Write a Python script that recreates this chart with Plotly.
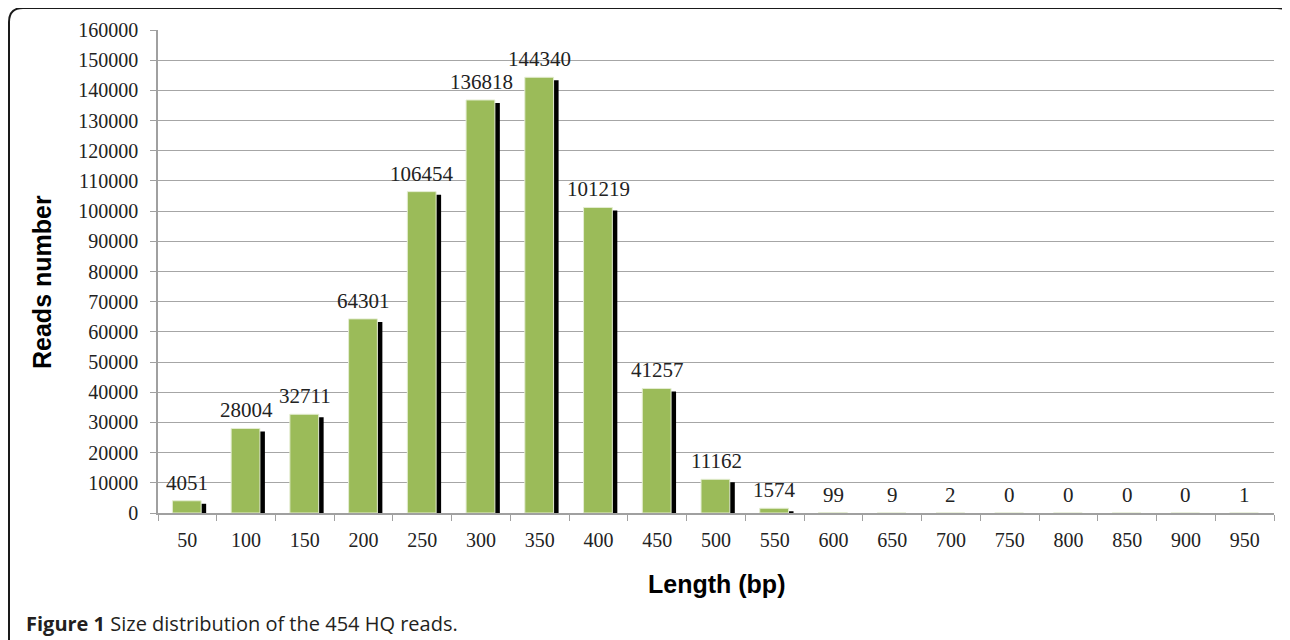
import plotly.graph_objects as go

# ---- data ----
lengths = ["50", "100", "150", "200", "250", "300", "350", "400", "450", "500",
           "550", "600", "650", "700", "750", "800", "850", "900", "950"]
reads = [4051, 28004, 32711, 64301, 106454, 136818, 144340, 101219, 41257, 11162,
         1574, 99, 9, 2, 0, 0, 0, 0, 1]
y_ticks = list(range(0, 160001, 10000))

# ---- layout geometry (window pixels; page body has an 8px margin) ----
OFF = 8
W, H = 1290 - OFF, 640 - OFF
# plot area in window pixels: x 158..1274, y 30..513
L = 158 - OFF
T = 30 - OFF
R = 1290 - 1274
B = H - (513 - OFF)
plot_w = W - L - R
plot_h = H - T - B
ymax = 160000

def px(x):
    # window x -> paper x
    return (x - OFF - L) / plot_w

def py(y):
    # window y -> paper y
    return (H - B - (y - OFF)) / plot_h

shadow_dy = 3 * ymax / plot_h  # 3 px drop of the shadow

green = "#9bbb59"
serif = "Liberation Serif"
sans = "Liberation Sans"

fig = go.Figure()

# shadow bars
fig.add_trace(go.Bar(
    x=lengths, y=reads, base=[-shadow_dy] * len(reads),
    width=0.49, offset=-0.255 + 0.085,
    marker=dict(color="black", line=dict(width=0)),
    hoverinfo="skip", showlegend=False,
))
# main bars
fig.add_trace(go.Bar(
    x=lengths, y=reads,
    width=0.49, offset=-0.255,
    marker=dict(color=green, line=dict(color="#e4edd2", width=1)),
    showlegend=False,
))

# value labels (category axis -> use category index as x)
annotations = [
    dict(x=i, y=val, text=str(val), xref="x", yref="y",
         xanchor="center", yanchor="bottom", yshift=4, showarrow=False,
         font=dict(family=serif, size=21, color="#222222"))
    for i, val in enumerate(reads)
]
annotations += [
    dict(text="<b>Length (bp)</b>", xref="paper", yref="paper",
         x=px(716), y=py(584), xanchor="center", yanchor="middle",
         showarrow=False, font=dict(family=sans, size=25, color="black")),
    dict(text="<b>Reads number</b>", xref="paper", yref="paper",
         x=px(42), y=py(282), xanchor="center", yanchor="middle",
         textangle=-90,
         showarrow=False, font=dict(family=sans, size=25, color="black")),
    dict(text="<b>Figure 1</b> Size distribution of the 454 HQ reads.",
         xref="paper", yref="paper",
         x=px(24), y=py(623), xanchor="left", yanchor="middle",
         showarrow=False, font=dict(family="Open Sans", size=20, color="#231f20")),
]

fig.update_layout(
    width=W, height=H,
    margin=dict(l=L, r=R, t=T, b=B, pad=0),
    paper_bgcolor="white", plot_bgcolor="white",
    barmode="overlay",
    font=dict(family=serif, size=20, color="#222222"),
    xaxis=dict(
        type="category", tickson="boundaries",
        ticks="outside", ticklen=6, tickcolor="#a0a0a0", tickwidth=1.3,
        showline=True, linecolor="#a0a0a0", linewidth=1.5,
        showgrid=False, ticklabelstandoff=8,
        tickfont=dict(family=serif, size=20, color="#222222"),
        range=[-0.5, len(lengths) - 0.5],
    ),
    yaxis=dict(
        range=[0, ymax], tickvals=y_ticks, ticktext=[str(v) for v in y_ticks],
        ticks="outside", ticklen=6, tickcolor="#a0a0a0", tickwidth=1.3,
        showline=True, linecolor="#a0a0a0", linewidth=1.5,
        showgrid=True, gridcolor="#a6a6a6", gridwidth=1.3,
        zeroline=False, ticklabelstandoff=8,
        tickfont=dict(family=serif, size=20, color="#222222"),
    ),
    annotations=annotations,
)

# rounded frame (left + top + small right hook)
rx, ry = 14, 14
path = (
    f"M {px(9)},{py(660)} L {px(9)},{py(8 + ry)} "
    f"Q {px(9)},{py(8)} {px(9 + rx)},{py(8)} "
    f"L {px(1285 - 8)},{py(8)} Q {px(1285)},{py(8)} {px(1286)},{py(12)}"
)
fig.add_shape(type="path", path=path, xref="paper", yref="paper",
              line=dict(color="#1a1a1a", width=2), layer="above")

fig.write_html("out.html")
